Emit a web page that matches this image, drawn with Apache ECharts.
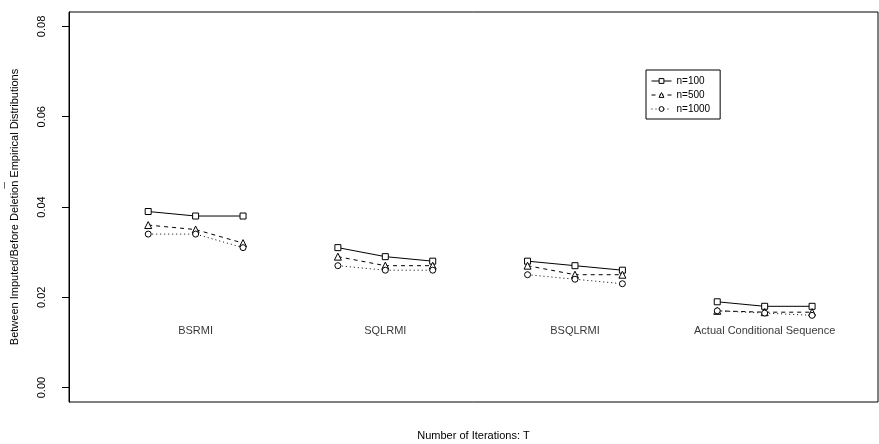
<!DOCTYPE html>
<html>
<head>
<meta charset="utf-8">
<script src="https://cdn.jsdelivr.net/npm/echarts@6/dist/echarts.min.js"></script>
<style>html,body{margin:0;padding:0;background:#fff}#c{width:879px;height:444px}</style>
</head>
<body>
<div id="c"></div>
<script>
const categories = ['BSRMI', 'SQLRMI', 'BSQLRMI', 'Actual Conditional Sequence'];
const categoryX = [2, 6, 10, 14];
const iterX = [[1, 2, 3], [5, 6, 7], [9, 10, 11], [13, 14, 15]];
const n100 = [0.039, 0.038, 0.038, 0.031, 0.029, 0.028, 0.028, 0.027, 0.026, 0.019, 0.018, 0.018];
const n500 = [0.036, 0.035, 0.032, 0.029, 0.027, 0.027, 0.027, 0.025, 0.025, 0.017, 0.0167, 0.0167];
const n1000 = [0.034, 0.034, 0.031, 0.027, 0.026, 0.026, 0.025, 0.024, 0.023, 0.017, 0.0165, 0.016];
const yTicks = [0, 0.02, 0.04, 0.06, 0.08];
const labelY = 0.0125;

function build(vals) {
  const out = [];
  iterX.forEach((xs, g) => {
    xs.forEach((x, i) => out.push([x, vals[g * 3 + i]]));
    if (g < iterX.length - 1) out.push([xs[2] + 1, '-']);
  });
  return out;
}

const font = 'Liberation Sans, Arial, sans-serif';
const chart = echarts.init(document.getElementById('c'), null, {renderer: 'canvas'});
function lineSeries(name, vals, symbol, size, type) {
  return {
    name, type: 'line', data: build(vals), symbol, symbolSize: size,
    connectNulls: false, animation: false,
    lineStyle: {color: '#000', width: 1, type},
    itemStyle: {color: '#fff', borderColor: '#000', borderWidth: 1},
    emphasis: {disabled: true}
  };
}
chart.setOption({
  animation: false,
  backgroundColor: '#fff',
  textStyle: {fontFamily: font},
  grid: {left: 69, right: 1, top: 12, bottom: 42, show: true, borderColor: '#000', borderWidth: 1,
    backgroundColor: 'transparent', containLabel: false, outerBoundsMode: 'none'},
  legend: {
    orient: 'vertical', left: 646, top: 70,
    data: ['n=100', 'n=500', 'n=1000'],
    itemWidth: 20, itemHeight: 6, itemGap: 4,
    itemStyle: {color: '#fff', borderColor: '#000', borderWidth: 1},
    lineStyle: {width: 1},
    borderColor: '#000', borderWidth: 1, borderRadius: 0, padding: [6, 10, 5, 5],
    textStyle: {fontSize: 10, color: '#000', fontFamily: font}
  },
  xAxis: {
    type: 'value', min: -0.67, max: 16.39,
    axisLine: {show: false}, axisTick: {show: false}, axisLabel: {show: false}, splitLine: {show: false},
    name: 'Number of Iterations: T', nameLocation: 'middle', nameGap: 28,
    nameTextStyle: {fontSize: 11, color: '#000', fontFamily: font}
  },
  yAxis: {
    type: 'value', min: -0.0032, max: 0.0832,
    axisLine: {show: true, onZero: false, lineStyle: {color: '#000', width: 1}},
    axisTick: {show: true, length: 7, customValues: yTicks, lineStyle: {color: '#000'}},
    axisLabel: {show: true, rotate: 90, margin: 22, fontSize: 11, color: '#000', fontFamily: font,
      customValues: yTicks, formatter: v => v.toFixed(2)},
    splitLine: {show: false},
    name: 'Between Imputed/Before Deletion Empirical Distributions', nameLocation: 'middle', nameGap: 49,
    nameTextStyle: {fontSize: 11, color: '#000', fontFamily: font}
  },
  graphic: [{type: 'text', left: 5, top: 182, rotation: Math.PI / 2, style: {text: '\u00AF', font: '12px ' + font, fill: '#000'}}],
  series: [
    lineSeries('n=100', n100, 'rect', 6, 'solid'),
    lineSeries('n=500', n500, 'triangle', 7, [4, 4]),
    lineSeries('n=1000', n1000, 'circle', 6, [1, 3]),
    {
      type: 'scatter', symbolSize: 0, silent: true,
      data: categories.map((c, i) => [categoryX[i], labelY, c]),
      label: {show: true, position: 'inside', formatter: p => p.data[2], fontSize: 11, color: '#000', fontFamily: font}
    }
  ]
});
</script>
</body>
</html>
